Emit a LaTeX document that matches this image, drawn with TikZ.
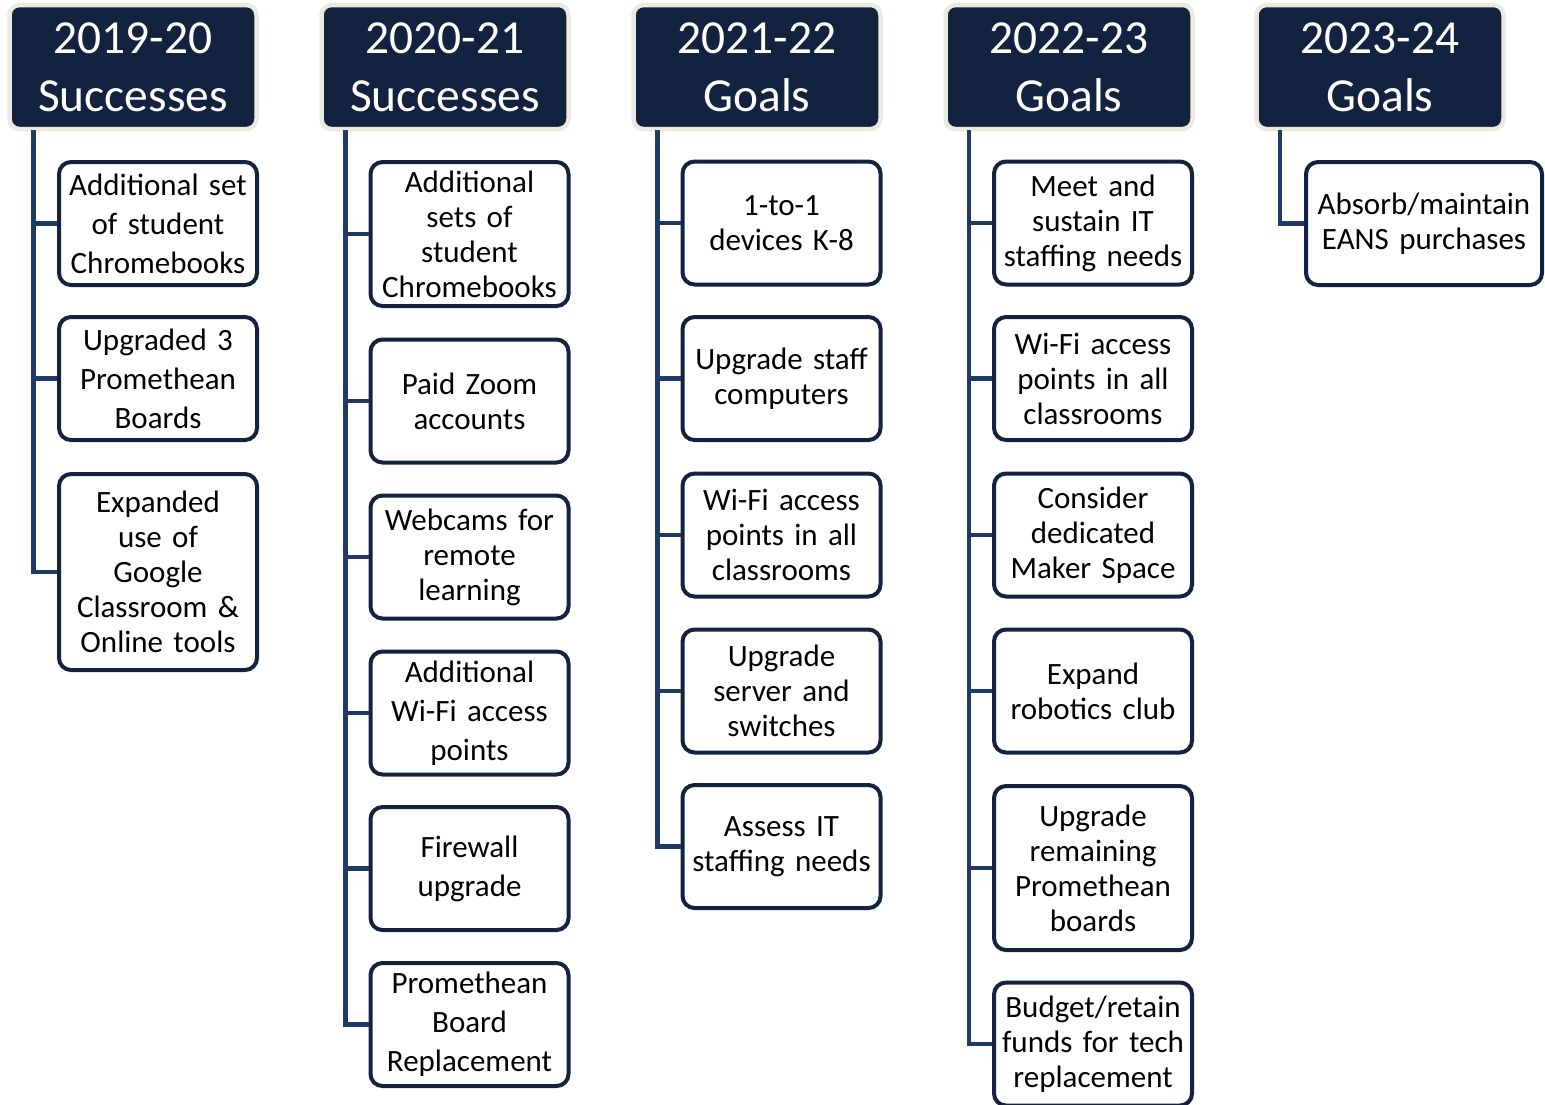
\documentclass[tikz,border=0pt]{standalone}
\usepackage{fontspec}
\setmainfont{Carlito}
\usetikzlibrary{positioning}

\definecolor{navy}{HTML}{13233F}
\definecolor{cream}{HTML}{ECE9DF}
\definecolor{trunkblue}{HTML}{1F3A66}

\tikzset{
  year/.style={draw=cream, line width=2.25pt, fill=navy, rounded corners=5pt,
    text=white, minimum width=123.5pt, minimum height=62pt, align=center,
    inner sep=0pt, font=\fontsize{23.7}{29}\selectfont},
  item/.style={draw=navy, line width=2pt, fill=white, rounded corners=6pt,
    minimum width=99pt, minimum height=61.5pt, text width=96pt, align=center,
    inner sep=0pt, font=\fontsize{15.5}{17.5}\selectfont},
  loose/.style={font=\fontsize{15.5}{19.5}\selectfont},
  link/.style={draw=trunkblue, line width=2.4pt},
}

\begin{document}
\begin{tikzpicture}[x=0.5pt, y=-0.5pt]
    \useasboundingbox (0,0) rectangle (1545,1104);

    % trunk tops
    \coordinate (t1) at (33.5,130);
    \coordinate (t2) at (345.5,130);
    \coordinate (t3) at (657.5,130);
    \coordinate (t4) at (969,130);
    \coordinate (t5) at (1280,130);

    % year headers
    \node[year] (y1) at (133,67)  {2019-20\\Successes};
    \node[year] (y2) at (445,67)  {2020-21\\Successes};
    \node[year] (y3) at (757,67)  {2021-22\\Goals};
    \node[year] (y4) at (1069,67) {2022-23\\Goals};
    \node[year] (y5) at (1380,67) {2023-24\\Goals};

    % 2019-20
    \node[item, loose] (a1) at (158,223.5) {Additional set of student Chromebooks};
    \node[item, loose] (a2) at (158,378.5) {Upgraded 3 Promethean Boards};
    \node[item, minimum height=98pt] (a3) at (158,572) {Expanded\\use of\\Google\\Classroom \&\\Online tools};

    % 2020-21
    \node[item, minimum height=72pt] (b1) at (469.5,234) {Additional\\sets of\\student\\Chromebooks};
    \node[item] (b2) at (469.5,401) {Paid Zoom\\accounts};
    \node[item] (b3) at (469.5,557) {Webcams for\\remote\\learning};
    \node[item, loose] (b4) at (469.5,713) {Additional\\Wi-Fi access\\points};
    \node[item, loose] (b5) at (469.5,868.5) {Firewall\\upgrade};
    \node[item, loose] (b6) at (469.5,1024.5) {Promethean\\Board\\Replacement};

    % 2021-22
    \node[item] (c1) at (781.5,223) {1-to-1\\devices K-8};
    \node[item] (c2) at (781.5,378.5) {Upgrade staff\\computers};
    \node[item] (c3) at (781.5,535) {Wi-Fi access\\points in all\\classrooms};
    \node[item] (c4) at (781.5,691) {Upgrade\\server and\\switches};
    \node[item] (c5) at (781.5,846.5) {Assess IT\\staffing needs};

    % 2022-23
    \node[item] (d1) at (1093,223) {Meet and\\sustain IT\\staffing needs};
    \node[item] (d2) at (1093,378.5) {Wi-Fi access\\points in all\\classrooms};
    \node[item] (d3) at (1093,535) {Consider\\dedicated\\Maker Space};
    \node[item] (d4) at (1093,691) {Expand\\robotics club};
    \node[item, minimum height=82pt] (d5) at (1093,868) {Upgrade\\remaining\\Promethean\\boards};
    \node[item] (d6) at (1093,1044) {Budget/retain\\funds for tech\\replacement};

    % 2023-24
    \node[item, minimum width=118pt, text width=116pt] (e1) at (1424,223.5) {Absorb/maintain\\EANS purchases};

    % connectors
    \foreach \c in {a1,a2,a3} \draw[link] (t1) |- (\c.west);
    \foreach \c in {b1,b2,b3,b4,b5,b6} \draw[link] (t2) |- (\c.west);
    \foreach \c in {c1,c2,c3,c4,c5} \draw[link] (t3) |- (\c.west);
    \foreach \c in {d1,d2,d3,d4,d5,d6} \draw[link] (t4) |- (\c.west);
    \draw[link] (t5) |- (e1.west);

\end{tikzpicture}
\end{document}
